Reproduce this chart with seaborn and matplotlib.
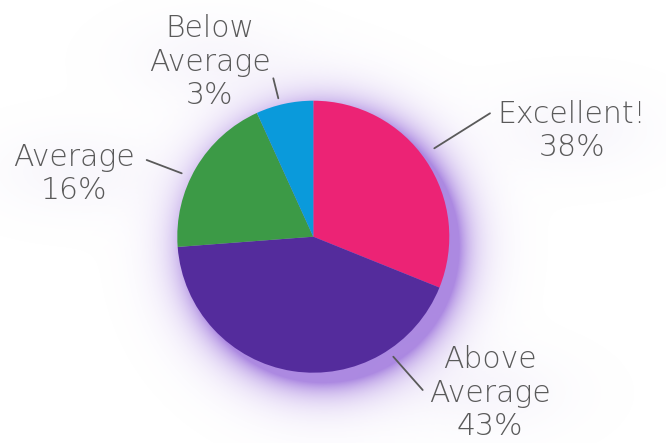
import numpy as np
import seaborn as sns
import matplotlib.pyplot as plt

# slice shares as drawn, and the percentages printed in the labels
categories = ['Excellent!', 'Above\nAverage', 'Average', 'Below\nAverage']
shares = [31.1, 42.7, 19.4, 6.8]
pct_labels = ['38%', '43%', '16%', '3%']
colors = ['#EC2375', '#542C9C', '#3C9A46', '#0A9ADB']

sns.set_theme(style='white')
plt.rcParams['font.family'] = ['DejaVu Sans']

W, H = 666, 443
fig = plt.figure(figsize=(W / 100, H / 100), dpi=100)
ax = fig.add_axes([0, 0, 1, 1])

cx, cy, r = 313.3, H - 236.7, 136

# purple glow behind the pie, heavier toward lower right
xx, yy = np.meshgrid(np.arange(W) + 0.5, np.arange(H) + 0.5)
d = np.hypot(xx - (cx + 10), yy - (cy - 10)) - r
alpha = np.where(d < 0, 0.72, 0.72 * np.exp(-np.clip(d, 0, None) / 17))
haze = np.zeros_like(alpha)
for hx, hy in [(572, 130), (210, 60), (74, 172), (490, 393)]:
    haze += 0.12 * np.exp(-(((xx - hx) / 78) ** 2 + ((yy - (H - hy)) / 40) ** 2))
rgba = np.zeros((H, W, 4))
tot = np.clip(alpha + haze, 0, 1)
mix = np.where(tot > 0, alpha / np.maximum(tot, 1e-9), 1)
glow = np.array([0.55, 0.36, 0.84])
lav = np.array([0.80, 0.74, 0.91])
rgba[..., :3] = mix[..., None] * glow + (1 - mix[..., None]) * lav
rgba[..., 3] = tot
ax.imshow(rgba, extent=(0, W, 0, H), origin='lower', zorder=0, interpolation='bilinear')

ax.pie(shares, colors=colors, startangle=90, counterclock=False,
       center=(cx, cy), radius=r, frame=True,
       wedgeprops=dict(linewidth=0))
ax.set_xlim(0, W)
ax.set_ylim(0, H)
ax.set_aspect('equal')
ax.axis('off')

txt = '#5a5a5a'
label_pos = [(572, 131), (490, 393), (74, 174), (210, 62)]
leaders = [((434.3, 148.3), (490, 113.3)),
           ((393.3, 356.7), (422.7, 390)),
           ((146.7, 160), (181.7, 173.3)),
           ((273.3, 78.3), (278.3, 98.3))]
for cat, pct, (lx, ly), (p0, p1) in zip(categories, pct_labels, label_pos, leaders):
    ax.text(lx, H - ly, f'{cat}\n{pct}', ha='center', va='center', fontsize=21.5,
            color=txt, fontweight='light', linespacing=1.2, zorder=5)
    ax.plot([p0[0], p1[0]], [H - p0[1], H - p1[1]], color=txt, lw=1.3, zorder=5)

fig.savefig('out.png', dpi=100, facecolor='white')
